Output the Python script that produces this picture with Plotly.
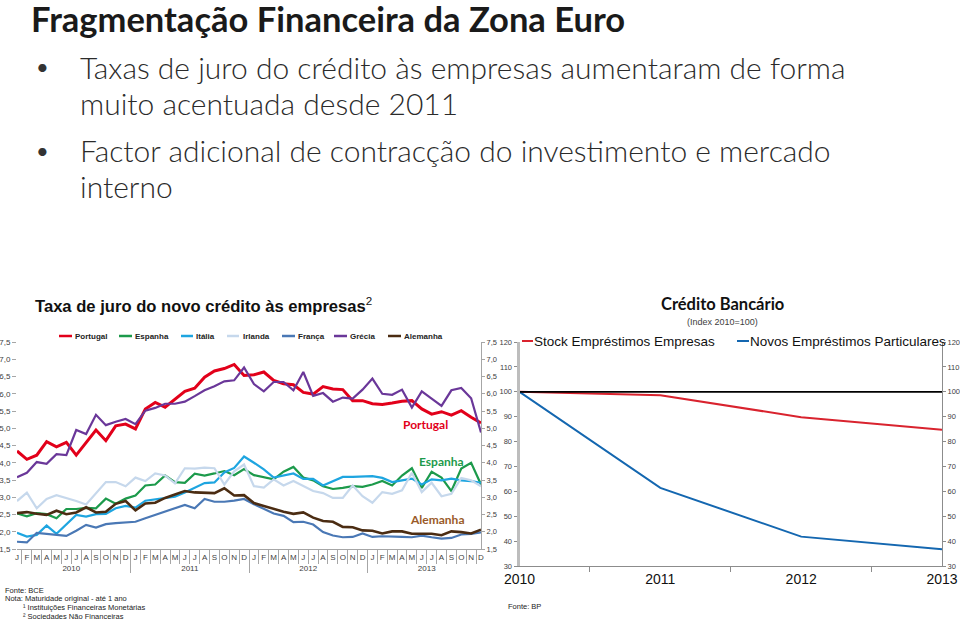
import plotly.graph_objects as go

# ---------------- data ----------------
months = ["J", "F", "M", "A", "M", "J", "J", "A", "S", "O", "N", "D"]
years = ["2010", "2011", "2012", "2013"]

portugal = [4.34, 4.10, 4.22, 4.61, 4.46, 4.59, 4.22, 4.59, 4.95, 4.64, 5.07, 5.12,
            4.98, 5.56, 5.75, 5.61, 5.85, 6.07, 6.16, 6.48, 6.66, 6.73, 6.85, 6.53,
            6.55, 6.63, 6.39, 6.29, 6.26, 6.04, 5.99, 6.21, 6.14, 6.12, 5.80, 5.80,
            5.71, 5.69, 5.73, 5.78, 5.80, 5.56, 5.41, 5.48, 5.38, 5.51, 5.32, 5.15]
espanha = [2.53, 2.45, 2.54, 2.51, 2.39, 2.66, 2.66, 2.69, 2.68, 2.96, 2.81, 2.96,
           3.05, 3.34, 3.37, 3.63, 3.44, 3.42, 3.68, 3.63, 3.69, 3.76, 3.64, 3.82,
           3.64, 3.59, 3.52, 3.74, 3.88, 3.57, 3.49, 3.32, 3.24, 3.27, 3.32, 3.30,
           3.37, 3.47, 3.34, 3.63, 3.84, 3.27, 3.74, 3.57, 3.18, 3.83, 4.00, 3.37]
italia = [1.97, 1.86, 1.91, 2.18, 1.94, 2.22, 2.49, 2.44, 2.51, 2.52, 2.68, 2.75,
          2.70, 2.90, 2.94, 2.97, 3.02, 3.14, 3.27, 3.41, 3.43, 3.72, 3.85, 4.18,
          4.00, 3.81, 3.57, 3.64, 3.69, 3.53, 3.53, 3.34, 3.47, 3.59, 3.59, 3.61,
          3.61, 3.56, 3.44, 3.49, 3.54, 3.37, 3.52, 3.49, 3.54, 3.49, 3.47, 3.42]
irlanda = [2.89, 3.13, 2.68, 2.95, 3.06, 2.98, 2.89, 2.79, 3.13, 3.44, 3.44, 3.32,
           3.57, 3.47, 3.69, 3.63, 3.40, 3.84, 3.83, 3.86, 3.84, 3.37, 3.75, 3.95,
           3.32, 3.28, 3.52, 3.34, 3.47, 3.32, 3.18, 3.12, 2.98, 2.98, 3.34, 3.03,
           2.84, 3.15, 3.10, 3.20, 3.71, 3.15, 3.42, 3.03, 3.10, 3.56, 3.49, 3.32]
franca = [1.71, 1.69, 1.97, 1.94, 1.89, 1.88, 2.03, 2.20, 2.12, 2.22, 2.25, 2.27,
          2.29, 2.39, 2.49, 2.58, 2.68, 2.78, 2.68, 2.95, 2.87, 2.87, 2.90, 2.95,
          2.80, 2.67, 2.53, 2.46, 2.28, 2.29, 2.21, 1.99, 1.89, 1.84, 1.85, 1.95,
          1.85, 1.87, 1.87, 1.85, 1.84, 1.89, 1.84, 1.80, 1.82, 1.92, 1.94, 1.98]
grecia = [3.58, 3.71, 4.02, 3.97, 4.25, 4.22, 4.95, 4.83, 5.39, 5.09, 5.19, 5.27,
          5.12, 5.51, 5.59, 5.71, 5.71, 5.77, 5.93, 6.10, 6.22, 6.36, 6.39, 6.76,
          6.28, 6.07, 6.34, 6.34, 6.10, 6.63, 5.94, 6.02, 5.77, 5.89, 5.86, 6.12,
          6.44, 6.00, 5.97, 6.12, 5.60, 6.07, 5.86, 5.65, 6.10, 6.17, 5.87, 4.88]
alemanha = [2.54, 2.57, 2.52, 2.49, 2.61, 2.51, 2.56, 2.71, 2.56, 2.58, 2.81, 2.89,
            2.62, 2.82, 2.84, 2.98, 3.08, 3.18, 3.14, 3.14, 3.12, 3.26, 3.05, 3.06,
            2.83, 2.75, 2.66, 2.58, 2.52, 2.56, 2.41, 2.31, 2.29, 2.14, 2.13, 2.04,
            2.03, 1.95, 2.01, 2.01, 1.94, 1.95, 1.94, 1.90, 2.01, 1.99, 1.95, 2.06]

series_names = ["Portugal", "Espanha", "Itália", "Irlanda", "França", "Grécia", "Alemanha"]
series_values = [portugal, espanha, italia, irlanda, franca, grecia, alemanha]

credit_years = ["2010", "2011", "2012", "2013"]
stock_empresas = [100, 98.6, 89.8, 84.7]
novos_particulares = [100, 61.4, 41.8, 36.7]
referencia = [100, 100, 100, 100]

# ---------------- styles ----------------
colors = ["#e2001a", "#1c9a4b", "#1ea5e0", "#c6d8ec", "#4a78b5", "#6a3799", "#4b2c12"]
widths = [3.0, 2.2, 2.2, 2.2, 2.2, 2.2, 2.6]

W, H = 960, 620


def px(x):
    return x / W


def py(y):
    return 1 - y / H


# unique inner month labels (zero-width spaces keep repeated letters distinct)
inner = []
seen = {}
for m in months:
    k = seen.get(m, 0)
    inner.append(m + "\u200b" * k)
    seen[m] = k + 1
x_outer = [y for y in years for _ in months]
x_inner = inner * len(years)

fig = go.Figure()
for i, (name, vals) in enumerate(zip(series_names, series_values)):
    fig.add_trace(go.Scatter(
        x=[x_outer, x_inner], y=vals, mode="lines", name=name,
        line=dict(color=colors[i], width=widths[i]),
        xaxis="x", yaxis="y2" if name == "Alemanha" else "y",
        showlegend=False, hoverinfo="skip"))

fig.add_trace(go.Scatter(x=credit_years, y=stock_empresas, mode="lines",
                         name="Stock Empréstimos Empresas",
                         line=dict(color="#d9232e", width=2),
                         xaxis="x3", yaxis="y3", showlegend=False))
fig.add_trace(go.Scatter(x=credit_years, y=novos_particulares, mode="lines",
                         name="Novos Empréstimos Particulares",
                         line=dict(color="#1467b0", width=2),
                         xaxis="x3", yaxis="y3", showlegend=False))
fig.add_trace(go.Scatter(x=credit_years, y=referencia, mode="lines",
                         name="2010=100", line=dict(color="#000000", width=1.8),
                         xaxis="x3", yaxis="y4", showlegend=False))

axis_gray = "#a6a6a6"
small_font = dict(family="Liberation Sans, Arial, sans-serif", size=8, color="#404040")
tiny_font = dict(family="Liberation Sans, Arial, sans-serif", size=7.5, color="#404040")

fig.update_layout(
    width=W, height=H, autosize=False,
    margin=dict(l=0, r=0, t=0, b=0, autoexpand=False),
    paper_bgcolor="white", plot_bgcolor="white",
    separators=",.",
    xaxis=dict(domain=[px(17), px(481)], anchor="y", type="multicategory",
               automargin=False, tickmode="linear", tick0=0, dtick=1, tickangle=0,
               showgrid=False, showline=True, linecolor=axis_gray, linewidth=1,
               ticks="outside", ticklen=14, ticklabelstandoff=0, tickcolor=axis_gray,
               showdividers=True, dividercolor=axis_gray, dividerwidth=1,
               tickfont=small_font),
    yaxis=dict(domain=[py(549), py(342)], anchor="x", range=[1.5, 7.5],
               automargin=False,
               tick0=1.5, dtick=0.5, tickformat=".1f", showgrid=False,
               zeroline=False, showline=False, ticks="outside", ticklen=4,
               tickcolor=axis_gray, tickfont=small_font),
    yaxis2=dict(overlaying="y", side="right", anchor="x", range=[1.5, 7.5],
                automargin=False,
                tick0=1.5, dtick=0.5, tickformat=".1f", showgrid=False,
                zeroline=False, showline=True, linecolor=axis_gray,
                ticks="outside", ticklen=3, tickcolor=axis_gray,
                tickfont=tiny_font),
    xaxis3=dict(domain=[px(519.5), px(942)], anchor="y3", type="category",
                automargin=False,
                tickson="boundaries", ticks="outside", ticklen=5,
                tickcolor="#8c8c8c", showline=True, linecolor="#8c8c8c",
                showgrid=False,
                tickfont=dict(family="Liberation Sans, Arial, sans-serif",
                              size=14, color="#111111")),
    yaxis3=dict(domain=[py(566), py(342)], anchor="x3", range=[30, 120],
                automargin=False,
                dtick=10, showgrid=False, zeroline=False, showline=True,
                linecolor="#bdbdbd", linewidth=3, ticks="outside", ticklen=3,
                tickcolor="#8c8c8c", tickfont=tiny_font),
    yaxis4=dict(overlaying="y3", side="right", anchor="x3", range=[30, 120],
                automargin=False,
                dtick=10, showgrid=False, zeroline=False, showline=True,
                linecolor="#8c8c8c", ticks="outside", ticklen=3,
                tickcolor="#8c8c8c", tickfont=tiny_font),
)

ann = []
shapes = []


def text(x, y, s, size, color="#000000", family="Liberation Sans, Arial, sans-serif",
         xanchor="left", weight=None):
    f = dict(family=family, size=size, color=color)
    if weight:
        f["weight"] = weight
    ann.append(dict(x=px(x), y=py(y), xref="paper", yref="paper", text=s,
                    showarrow=False, xanchor=xanchor, yanchor="middle",
                    font=f, align="left", borderpad=0))


lato = "Lato, Carlito, Calibri, sans-serif"
text(30, 19, "<b>Fragmentação Financeira da Zona Euro</b>", 34.5, "#1a1a1a", lato)
text(35, 67, "•", 22, "#333333", lato)
text(35, 150, "•", 22, "#333333", lato)
text(79, 67, "Taxas de juro do crédito às empresas aumentaram de forma", 30, "#2b2b2b", lato, weight=300)
text(79, 103, "muito acentuada desde 2011", 30, "#2b2b2b", lato, weight=300)
text(79, 150, "Factor adicional de contracção do investimento e mercado", 30, "#2b2b2b", lato, weight=300)
text(79, 186, "interno", 30, "#2b2b2b", lato, weight=300)

text(34, 305, "<b>Taxa de juro do novo crédito às empresas</b><sup>2</sup>", 16.6, "#111111")

# left legend
leg_pos = [(59, 72, 74), (119, 132, 134), (181, 193, 195), (227, 239, 242),
           (282, 295, 297), (334, 347, 349), (388, 401, 403)]
for (x0, x1, xt), name, c in zip(leg_pos, series_names, colors):
    shapes.append(dict(type="line", xref="paper", yref="paper", x0=px(x0), x1=px(x1),
                       y0=py(336), y1=py(336), line=dict(color=c, width=2.5)))
    text(xt, 336, "<b>" + name + "</b>", 8, "#222222")

# in-chart labels
text(425, 425, "<b>Portugal</b>", 12, "#e2001a", lato, xanchor="center")
text(441, 461, "<b>Espanha</b>", 12, "#1c9a4b", lato, xanchor="center")
text(437, 519, "<b>Alemanha</b>", 12, "#9a5a28", lato, xanchor="center")

# right chart titles & legend
text(722, 304, "<b>Crédito Bancário</b>", 16.5, "#111111", lato, xanchor="center")
text(722, 322, "(Index 2010=100)", 9, "#404040", xanchor="center")
shapes.append(dict(type="line", xref="paper", yref="paper", x0=px(522), x1=px(533),
                   y0=py(341), y1=py(341), line=dict(color="#d9232e", width=2)))
text(533, 341, "Stock Empréstimos Empresas", 13.5, "#111111")
shapes.append(dict(type="line", xref="paper", yref="paper", x0=px(737), x1=px(749),
                   y0=py(341), y1=py(341), line=dict(color="#1467b0", width=2)))
text(749, 341, "Novos Empréstimos Particulares", 13.5, "#111111")

# footnotes
text(4, 590, "Fonte: BCE", 7.5, "#222222")
text(4, 598, "Nota: Maturidade original - até 1 ano", 7.5, "#222222")
text(22, 607, "¹ Instituições Financeiras Monetárias", 7.5, "#222222")
text(22, 616, "² Sociedades Não Financeiras", 7.5, "#222222")
text(507, 606, "Fonte: BP", 7.5, "#222222")

fig.update_layout(annotations=ann, shapes=shapes)
fig.write_html("out.html", config={"displayModeBar": False},
               post_script="document.body.style.margin='0';document.body.style.overflow='hidden';")
